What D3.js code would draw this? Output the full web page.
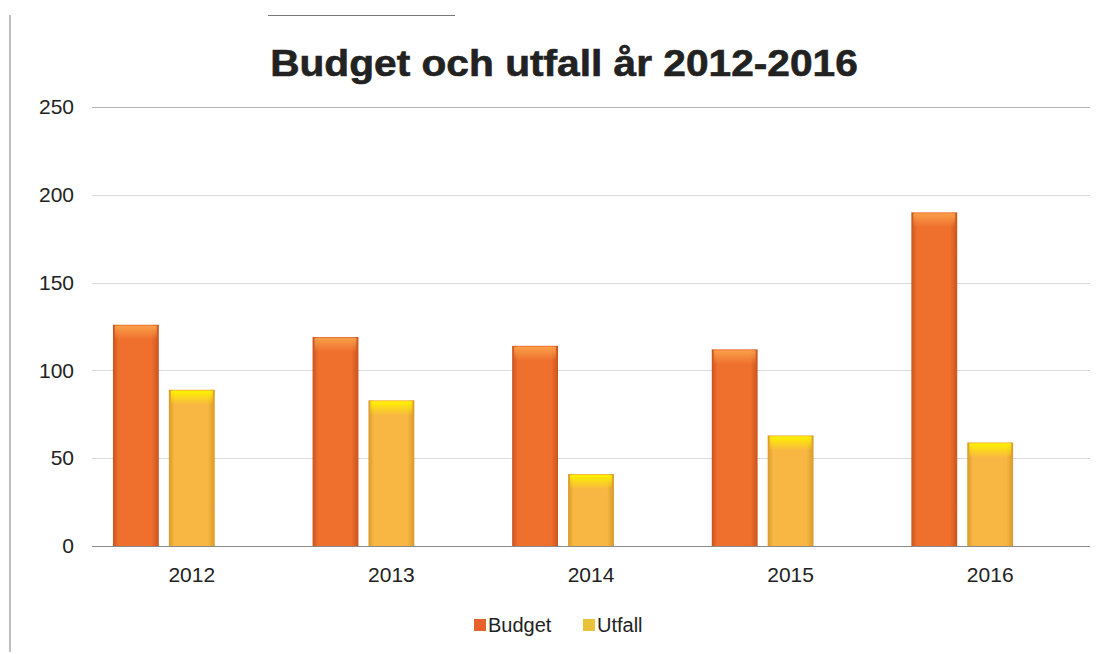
<!DOCTYPE html>
<html>
<head>
<meta charset="utf-8">
<script src="https://cdn.jsdelivr.net/npm/d3@7"></script>
<style>
  html, body { margin: 0; padding: 0; background: #fff; }
  svg { display: block; font-family: "Liberation Sans", Arial, sans-serif; }
</style>
</head>
<body>
<svg id="chart" width="1096" height="654"></svg>
<script>
// Budget vs. actual outcome per year
const years = ["2012", "2013", "2014", "2015", "2016"];
const seriesNames = ["Budget", "Utfall"];
const budget = [126, 119, 114, 112, 190];
const utfall = [89, 83, 41, 63, 59];
const yTicks = [0, 50, 100, 150, 200, 250];
const titleText = "Budget och utfall år 2012-2016";

const svg = d3.select("#chart");
const plot = { left: 92, right: 1090, top: 107, bottom: 546 };

// frame of the chart area
svg.append("line").attr("x1", 10).attr("x2", 10).attr("y1", 15).attr("y2", 652)
  .attr("stroke", "#a8a8a8").attr("stroke-width", 1.5);
svg.append("line").attr("x1", 268).attr("x2", 455).attr("y1", 15.5).attr("y2", 15.5)
  .attr("stroke", "#777").attr("stroke-width", 1);

const x = d3.scaleBand().domain(years).range([plot.left, plot.right])
  .paddingInner(0.21).paddingOuter(0.105);
// three slots per year; the third stays empty
const xs = d3.scaleBand().domain([...seriesNames, "_"]).range([0, x.bandwidth()])
  .paddingInner(0.18).paddingOuter(0);
const y = d3.scaleLinear().domain([0, 250]).range([plot.bottom, plot.top]);

// gradients
const defs = svg.append("defs");
function barGrad(id, edge, mid) {
  const g = defs.append("linearGradient").attr("id", id).attr("x1", 0).attr("x2", 1).attr("y1", 0).attr("y2", 0);
  g.append("stop").attr("offset", "0%").attr("stop-color", edge);
  g.append("stop").attr("offset", "12%").attr("stop-color", mid);
  g.append("stop").attr("offset", "85%").attr("stop-color", mid);
  g.append("stop").attr("offset", "100%").attr("stop-color", edge);
}
barGrad("gBudget", "#c9531f", "#ef6f2c");
barGrad("gUtfall", "#d99a2a", "#f8b742");
function topGrad(id, c) {
  const g = defs.append("linearGradient").attr("id", id).attr("x1", 0).attr("x2", 0).attr("y1", 0).attr("y2", 1);
  g.append("stop").attr("offset", "0%").attr("stop-color", c).attr("stop-opacity", 1);
  g.append("stop").attr("offset", "100%").attr("stop-color", c).attr("stop-opacity", 0);
}
topGrad("tBudget", "#f9a04a");
topGrad("tUtfall", "#fff200");

// gridlines
const grid = svg.append("g");
grid.selectAll("line").data(yTicks.filter(d => d > 0)).join("line")
  .attr("x1", plot.left).attr("x2", plot.right)
  .attr("y1", d => Math.round(y(d)) + 0.5).attr("y2", d => Math.round(y(d)) + 0.5)
  .attr("stroke", d => d === 250 ? "#b5b5b5" : "#d9d9d9").attr("stroke-width", 1.2);

// y axis labels
const yAxis = d3.axisLeft(y).tickValues(yTicks).tickSize(0).tickPadding(0);
const ya = svg.append("g").attr("transform", `translate(${plot.left - 18},0)`).call(yAxis);
ya.select(".domain").remove();
ya.selectAll("text").attr("font-size", 21).attr("fill", "#222")
  .attr("font-family", "Liberation Sans, Arial, sans-serif");

// bars
const data = years.map((yr, i) => ({ year: yr, values: [
  { s: "Budget", v: budget[i] }, { s: "Utfall", v: utfall[i] }
]}));
const groups = svg.append("g").selectAll("g").data(data).join("g")
  .attr("transform", d => `translate(${x(d.year)},0)`);
groups.selectAll("rect.bar").data(d => d.values).join("rect").attr("class", "bar")
  .attr("x", d => xs(d.s)).attr("width", xs.bandwidth())
  .attr("y", d => y(d.v)).attr("height", d => y(0) - y(d.v))
  .attr("fill", d => d.s === "Budget" ? "url(#gBudget)" : "url(#gUtfall)");
groups.selectAll("rect.hi").data(d => d.values).join("rect").attr("class", "hi")
  .attr("x", d => xs(d.s) + 2).attr("width", xs.bandwidth() - 4)
  .attr("y", d => y(d.v) + 1).attr("height", 14)
  .attr("fill", d => d.s === "Budget" ? "url(#tBudget)" : "url(#tUtfall)");

// baseline
svg.append("line").attr("x1", plot.left).attr("x2", plot.right)
  .attr("y1", y(0) + 0.5).attr("y2", y(0) + 0.5)
  .attr("stroke", "#8a8a8a").attr("stroke-width", 1.2);

// x axis labels
const xAxis = d3.axisBottom(x).tickSize(0).tickPadding(0);
const xa = svg.append("g").attr("transform", `translate(0,${plot.bottom + 21})`).call(xAxis);
xa.select(".domain").remove();
xa.selectAll("text").attr("font-size", 21).attr("fill", "#222")
  .attr("font-family", "Liberation Sans, Arial, sans-serif");

// title (heavy, slightly widened)
svg.append("text").attr("transform", "translate(564,76) scale(1.13,1)")
  .attr("text-anchor", "middle")
  .attr("font-size", 36).attr("font-weight", "bold").attr("fill", "#222")
  .attr("stroke", "#222").attr("stroke-width", 0.6)
  .text(titleText);

// legend
const legend = svg.append("g").attr("transform", "translate(474,625)");
const legendItems = [
  { name: seriesNames[0], fill: "#e8622c", x: 0 },
  { name: seriesNames[1], fill: "#e9c23a", x: 109 }
];
const li = legend.selectAll("g").data(legendItems).join("g")
  .attr("transform", d => `translate(${d.x},0)`);
li.append("rect").attr("x", 0).attr("y", -6).attr("width", 12).attr("height", 12)
  .attr("fill", d => d.fill);
li.append("text").attr("x", 14).attr("y", 7).attr("font-size", 20).attr("fill", "#222")
  .text(d => d.name);
</script>
</body>
</html>
